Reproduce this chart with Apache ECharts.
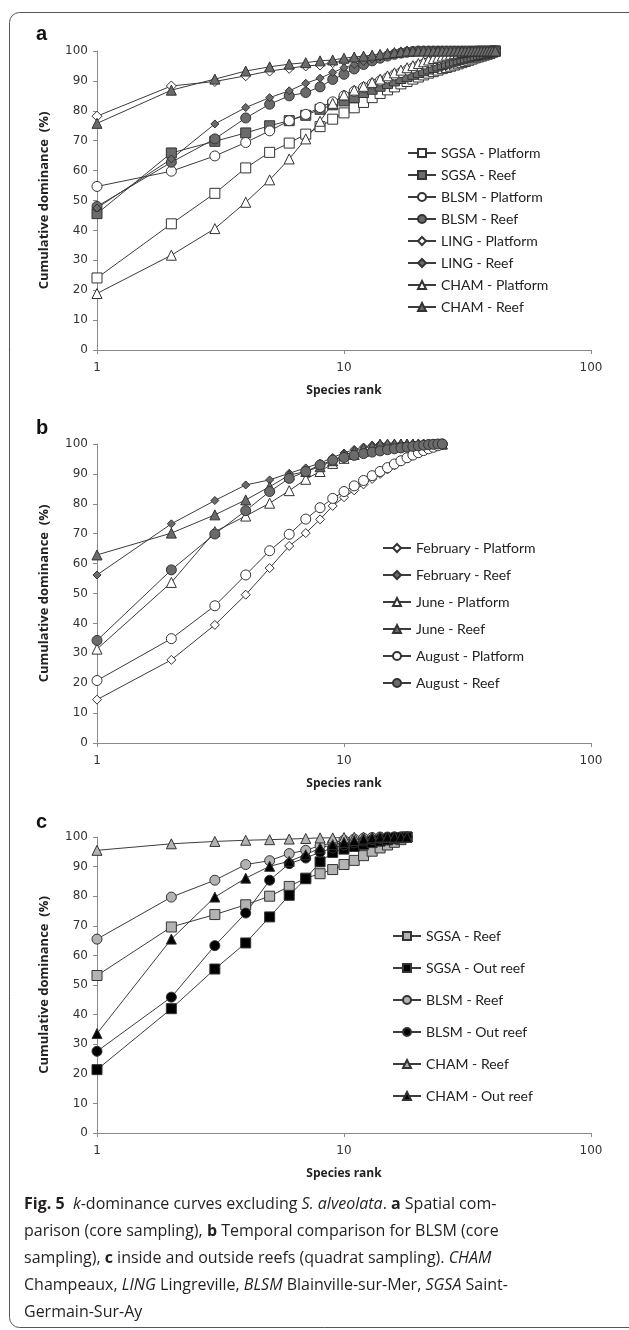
<!DOCTYPE html>
<html>
<head>
<meta charset="utf-8">
<script src="https://cdn.jsdelivr.net/npm/echarts@6/dist/echarts.min.js"></script>
<style>
  html, body { margin: 0; padding: 0; background: #fff; }
  #main { width: 629px; height: 1330px; }
</style>
</head>
<body>
<div id="main"></div>
<script>
// panel a: spatial comparison (core sampling), cumulative dominance per rank
var sgsaPlatA = [24.1,42.2,52.4,60.9,66.1,69.2,72.2,74.7,77.2,79.3,81.0,82.8,84.4,85.8,87.0,88.0,89.0,89.8,90.6,91.3,92.0,92.6,93.1,93.6,94.1,94.5,94.9,95.3,95.7,96.1,96.5,96.9,97.3,97.7,98.0,98.3,98.6,98.9,99.2,99.6,100];
var sgsaReefA = [45.6,65.9,69.8,72.6,75.0,76.7,78.5,80.5,82.0,83.3,84.4,86.1,87.2,88.2,89.1,90.0,90.8,91.5,92.2,92.8,93.4,94.0,94.5,95.0,95.5,95.9,96.3,96.7,97.1,97.4,97.7,98.0,98.3,98.5,98.8,99.0,99.2,99.4,99.6,99.8,100];
var blsmPlatA = [54.7,59.8,64.9,69.4,73.3,76.7,78.8,81.1,83.0,85.0,86.5,87.8,89.0,90.0,91.0,92.0,92.8,93.6,94.3,95.0,95.6,96.2,96.7,97.2,97.6,98.0,98.4,98.7,99.0,99.2,99.4,99.6,99.8,99.9,100,100,100,100,100,100,100];
var blsmReefA = [48.0,62.8,70.6,77.6,82.2,85.0,86.1,88.0,90.5,92.2,94.0,95.5,96.7,97.6,98.3,98.9,99.3,99.6,99.8,100,100,100,100,100,100,100,100,100,100,100,100,100,100,100,100,100,100,100,100,100,100];
var lingPlatA = [78.2,88.3,89.8,91.7,93.3,94.2,95.0,95.3,96.1,96.7,97.2,97.6,98.0,98.4,98.7,99.0,99.3,99.6,99.8,100,100,100,100,100,100,100,100,100,100,100,100,100,100,100,100,100,100,100,100,100,100];
var lingReefA = [47.5,63.9,75.6,81.1,84.4,86.7,89.2,90.9,92.8,94.4,95.5,96.5,97.3,98.0,98.6,99.0,99.4,99.7,100,100,100,100,100,100,100,100,100,100,100,100,100,100,100,100,100,100,100,100,100,100,100];
var chamPlatA = [18.9,31.7,40.6,49.4,56.9,63.9,70.6,76.5,82.5,85.3,86.9,88.2,89.5,90.6,91.7,92.7,93.6,94.4,95.1,95.8,96.4,97.0,97.5,97.9,98.3,98.6,98.9,99.1,99.3,99.5,99.7,99.8,99.9,100,100,100,100,100,100,100,100];
var chamReefA = [75.8,86.9,90.6,93.3,94.7,95.6,96.1,96.7,97.0,97.6,98.0,98.3,98.6,98.9,99.2,99.5,99.7,100,100,100,100,100,100,100,100,100,100,100,100,100,100,100,100,100,100,100,100,100,100,100,100];

// panel b: temporal comparison for BLSM
var febPlatB = [14.5,27.8,39.5,49.6,58.5,65.9,70.2,74.8,79.3,82.2,84.5,86.5,88.3,90.0,91.5,92.9,94.2,95.4,96.4,97.3,98.1,98.8,99.4,99.8,100];
var febReefB = [56.2,73.3,81.1,86.3,88.0,90.2,92.0,93.6,95.5,97.0,98.2,99.0,99.6,100,100,100,100,100,100,100,100,100,100,100,100];
var junPlatB = [31.4,53.7,70.7,75.9,80.2,84.4,88.2,90.8,93.5,95.2,96.5,97.5,98.3,99.0,99.5,99.8,100,100,100,100,100,100,100,100,100];
var junReefB = [62.9,70.2,76.3,81.3,85.7,89.6,90.8,92.4,94.4,96.3,97.5,98.5,99.3,100,100,100,100,100,100,100,100,100,100,100,100];
var augPlatB = [20.9,34.9,45.9,56.2,64.3,69.8,74.9,78.7,81.8,84.1,86.0,87.8,89.4,90.8,92.1,93.3,94.4,95.4,96.3,97.1,97.8,98.4,98.9,99.4,100];
var augReefB = [34.3,57.9,69.9,77.7,84.1,88.5,90.8,93.0,94.6,95.5,96.2,96.8,97.3,97.7,98.1,98.4,98.7,99.0,99.2,99.4,99.6,99.8,99.9,100,100];

// panel c: inside and outside reefs (quadrat sampling)
var sgsaReefC = [53.2,69.6,73.8,77.1,80.0,83.3,86.1,87.6,89.0,90.7,92.1,93.7,95.2,96.3,97.3,98.2,99.1,100];
var sgsaOutC = [21.4,42.0,55.4,64.2,73.0,80.3,85.9,91.6,94.8,95.9,96.8,97.5,98.1,98.6,99.0,99.4,99.7,100];
var blsmReefC = [65.5,79.7,85.4,90.7,92.0,94.4,95.5,97.1,98.0,98.9,99.3,99.6,99.8,100,100,100,100,100];
var blsmOutC = [27.6,45.9,63.3,74.3,85.4,91.0,92.9,94.9,96.3,97.3,98.0,98.6,99.1,99.5,99.8,100,100,100];
var chamReefC = [95.5,97.7,98.5,98.9,99.1,99.3,99.5,99.7,99.7,99.8,99.9,100,100,100,100,100,100,100];
var chamOutC = [33.6,65.5,79.7,86.1,90.1,91.8,94.0,96.3,97.4,98.2,98.8,99.3,99.7,100,100,100,100,100];

var yTicks = [0, 100, 10];   // min, max, interval
var xRange = [1, 100];

var chartDom = document.getElementById('main');
var myChart = echarts.init(chartDom);

var WHITE = '#ffffff', DARK = '#6b6b6b', LIGHT = '#b3b3b3', BLACK = '#000000';

function mk(panel, idx, name, vals, symbol, fill, size) {
    return {
        name: panel + ':' + name,
        type: 'line',
        xAxisIndex: idx,
        yAxisIndex: idx,
        data: vals.map(function (v, i) { return [i + 1, v]; }),
        symbol: symbol,
        symbolSize: size,
        showAllSymbol: true,
        lineStyle: { color: '#3c3c3c', width: 1 },
        itemStyle: { color: fill, borderColor: '#333', borderWidth: 1 },
        emphasis: { disabled: true },
        z: 2
    };
}

var seriesList = [
    mk('a', 0, 'SGSA - Platform', sgsaPlatA, 'rect', WHITE, 10),
    mk('a', 0, 'SGSA - Reef', sgsaReefA, 'rect', DARK, 10),
    mk('a', 0, 'BLSM - Platform', blsmPlatA, 'circle', WHITE, 10),
    mk('a', 0, 'BLSM - Reef', blsmReefA, 'circle', DARK, 10),
    mk('a', 0, 'LING - Platform', lingPlatA, 'diamond', WHITE, 10),
    mk('a', 0, 'LING - Reef', lingReefA, 'diamond', DARK, 8),
    mk('a', 0, 'CHAM - Platform', chamPlatA, 'triangle', WHITE, 10),
    mk('a', 0, 'CHAM - Reef', chamReefA, 'triangle', DARK, 10),

    mk('b', 1, 'February - Platform', febPlatB, 'diamond', WHITE, 9),
    mk('b', 1, 'February - Reef', febReefB, 'diamond', DARK, 8),
    mk('b', 1, 'June - Platform', junPlatB, 'triangle', WHITE, 10),
    mk('b', 1, 'June - Reef', junReefB, 'triangle', DARK, 10),
    mk('b', 1, 'August - Platform', augPlatB, 'circle', WHITE, 10),
    mk('b', 1, 'August - Reef', augReefB, 'circle', DARK, 10),

    mk('c', 2, 'SGSA - Reef', sgsaReefC, 'rect', LIGHT, 10),
    mk('c', 2, 'SGSA - Out reef', sgsaOutC, 'rect', BLACK, 10),
    mk('c', 2, 'BLSM - Reef', blsmReefC, 'circle', LIGHT, 10),
    mk('c', 2, 'BLSM - Out reef', blsmOutC, 'circle', BLACK, 10),
    mk('c', 2, 'CHAM - Reef', chamReefC, 'triangle', LIGHT, 10),
    mk('c', 2, 'CHAM - Out reef', chamOutC, 'triangle', BLACK, 10)
];

var grids = [
    { left: 97, width: 494, top: 51, height: 299 },
    { left: 97, width: 494, top: 444, height: 299 },
    { left: 97, width: 494, top: 837, height: 296 }
];

function xAx(i) {
    return {
        type: 'log', logBase: 10, gridIndex: i,
        min: xRange[0], max: xRange[1],
        name: 'Species rank', nameLocation: 'middle', nameGap: 35,
        nameTextStyle: { fontFamily: 'Open Sans', fontWeight: 'bold', fontSize: 12, color: '#222' },
        axisLine: { show: true, lineStyle: { color: '#8a8a8a' } },
        axisTick: { show: true, length: 4, lineStyle: { color: '#8a8a8a' } },
        axisLabel: { fontFamily: 'DejaVu Sans', fontSize: 12, color: '#333', margin: 12 },
        splitLine: { show: false },
        minorTick: { show: false }
    };
}
function yAx(i) {
    return {
        type: 'value', gridIndex: i,
        min: yTicks[0], max: yTicks[1], interval: yTicks[2],
        name: 'Cumulative dominance  (%)', nameLocation: 'middle', nameGap: 46,
        nameTextStyle: { fontFamily: 'Open Sans', fontWeight: 'bold', fontSize: 13, color: '#222' },
        axisLine: { show: true, lineStyle: { color: '#8a8a8a' } },
        axisTick: { show: true, length: 4, lineStyle: { color: '#8a8a8a' } },
        axisLabel: { fontFamily: 'DejaVu Sans', fontSize: 12, color: '#333', margin: 9 },
        splitLine: { show: false }
    };
}

function leg(panel, left, top, gap, names) {
    return {
        orient: 'vertical', left: left, top: top, itemGap: gap,
        itemWidth: 28, itemHeight: 10,
        data: names.map(function (n) { return panel + ':' + n; }),
        formatter: function (n) { return n.slice(2); },
        textStyle: { fontFamily: 'Lato', fontSize: 14, color: '#222' },
        selectedMode: false
    };
}

var captionLines = [
    '{b|Fig. 5}  {i|k}-dominance curves excluding {i|S. alveolata}. {b|a} Spatial com-',
    'parison (core sampling), {b|b} Temporal comparison for BLSM (core',
    'sampling), {b|c} inside and outside reefs (quadrat sampling). {i|CHAM}',
    'Champeaux, {i|LING} Lingreville, {i|BLSM} Blainville-sur-Mer, {i|SGSA} Saint-',
    'Germain-Sur-Ay'
];

function panelLabel(txt, y) {
    return {
        type: 'text', left: 36, top: y,
        style: { text: txt, font: 'bold 20px "Liberation Sans"', fill: '#111' }
    };
}

var option = {
    animation: false,
    backgroundColor: '#fff',
    grid: grids,
    xAxis: [xAx(0), xAx(1), xAx(2)],
    yAxis: [yAx(0), yAx(1), yAx(2)],
    legend: [
        leg('a', 402, 141, 8, ['SGSA - Platform', 'SGSA - Reef', 'BLSM - Platform', 'BLSM - Reef', 'LING - Platform', 'LING - Reef', 'CHAM - Platform', 'CHAM - Reef']),
        leg('b', 377, 536, 13, ['February - Platform', 'February - Reef', 'June - Platform', 'June - Reef', 'August - Platform', 'August - Reef']),
        leg('c', 387, 924, 18, ['SGSA - Reef', 'SGSA - Out reef', 'BLSM - Reef', 'BLSM - Out reef', 'CHAM - Reef', 'CHAM - Out reef'])
    ],
    graphic: [
        {
            type: 'rect', silent: true,
            shape: { x: 9.5, y: 12.5, width: 640, height: 1315, r: 10 },
            style: { fill: 'none', stroke: '#555', lineWidth: 1 }
        },
        panelLabel('a', 24),
        panelLabel('b', 418),
        panelLabel('c', 812),
        {
            type: 'text', left: 24, top: 1191,
            style: {
                text: captionLines.join('\n'),
                font: '16px "Open Sans"',
                fill: '#231f20',
                lineHeight: 27,
                rich: {
                    b: { fontFamily: 'Open Sans', fontWeight: 'bold', fontSize: 16, lineHeight: 27, fill: '#231f20' },
                    i: { fontFamily: 'Open Sans', fontStyle: 'italic', fontSize: 16, lineHeight: 27, fill: '#231f20' }
                }
            }
        }
    ],
    series: seriesList
};

option && myChart.setOption(option);

window.onresize = function () {
    myChart.resize();
};
</script>
</body>
</html>
